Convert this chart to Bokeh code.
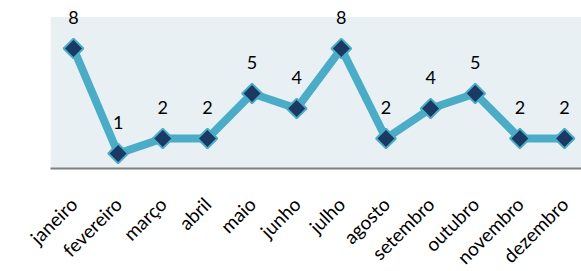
import math
from bokeh.plotting import figure
from bokeh.models import FixedTicker, ColumnDataSource, Range1d
from bokeh.core.properties import value
from bokeh.embed import file_html
from bokeh.resources import INLINE

months = ["janeiro", "fevereiro", "março", "abril", "maio", "junho", "julho",
          "agosto", "setembro", "outubro", "novembro", "dezembro"]
counts = [8, 1, 2, 2, 5, 4, 8, 2, 4, 5, 2, 2]

xs = list(range(len(months)))
src = ColumnDataSource(dict(x=xs, y=counts, lbl=[str(c) for c in counts]))

X0, X1 = -0.515, 11.38
p = figure(frame_width=531, frame_height=168, output_backend="svg",
           toolbar_location=None,
           x_range=Range1d(X0, X1), y_range=Range1d(0, 11.2),
           min_border_left=50, min_border_right=0, min_border_top=0,
           min_border_bottom=0, outline_line_color=None,
           background_fill_color="white", border_fill_color="white")

# plot-area background
p.quad(left=[X0], right=[X1], bottom=[0], top=[10.1],
       fill_color="#e8f0f4", line_color=None)

p.line("x", "y", source=src, line_color="#4aacc6", line_width=8,
       line_join="miter")
p.scatter("x", "y", source=src, marker="square", size=14, angle=math.pi / 4,
          fill_color="#1b3a63", line_color="#4aacc6", line_width=2)
p.text("x", "y", text="lbl", source=src, text_align="center",
       text_baseline="alphabetic", y_offset=-31, text_font_size="18px",
       text_color="black", text_font=value("Lato"))

p.grid.visible = False
p.yaxis.visible = False
ax = p.xaxis[0]
ax.ticker = FixedTicker(ticks=xs)
ax.major_label_overrides = {i: m for i, m in enumerate(months)}
ax.major_label_orientation = math.pi / 4
ax.major_label_text_font = "Lato"
ax.major_label_text_font_size = "19px"
ax.major_label_text_color = "black"
ax.major_label_standoff = 26
ax.major_tick_line_color = None
ax.minor_tick_line_color = None
ax.axis_line_color = "#7f7f7f"
ax.axis_line_width = 2

open("out.html", "w").write(file_html(p, INLINE))
